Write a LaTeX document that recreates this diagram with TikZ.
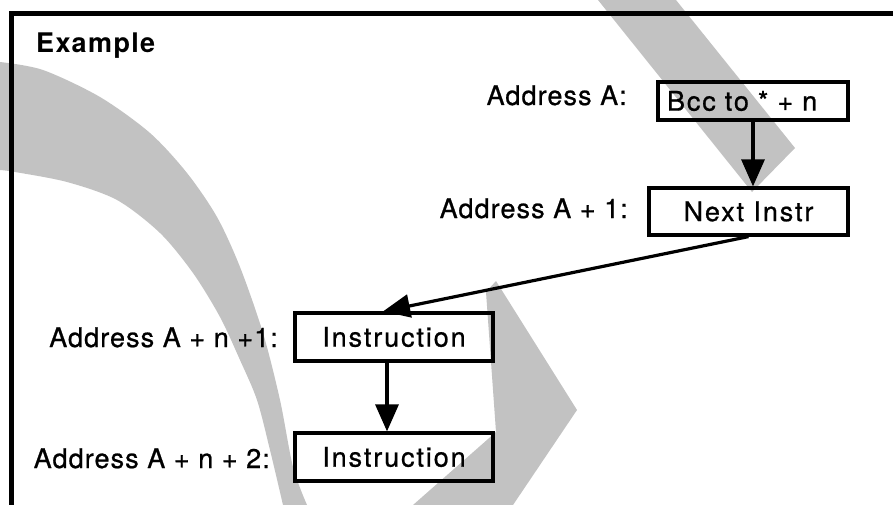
\documentclass[tikz,border=0pt]{standalone}
\usepackage{fontspec}
\setmainfont{TeX Gyre Heros}
\newfontfamily\labfont[LetterSpace=4,FakeBold=0.8]{TeX Gyre Heros}
\newfontfamily\boxfont[LetterSpace=7,FakeBold=0.8]{TeX Gyre Heros}
\newfontfamily\titlefont[LetterSpace=5]{TeX Gyre Heros}
\usetikzlibrary{arrows.meta}
\begin{document}
\begin{tikzpicture}[x=1pt,y=-1pt,
  halftone/.style={fill=black!24},
  membox/.style={draw, line width=3.2pt, minimum height=47pt, inner sep=0pt,
    font=\boxfont\fontsize{27}{32}\selectfont},
  addr/.style={anchor=base east, inner sep=0pt, font=\labfont\fontsize{27}{32}\selectfont},
  flow/.style={line width=3.2pt, -{Triangle[length=27pt,width=23pt]}},
  frameline/.style={line width=5pt},
]
\useasboundingbox (0,0) rectangle (893,505);

% halftone background shapes
\fill[halftone] plot[smooth] coordinates {(0,62) (43,70) (100,97) (150,133) (187,173) (217,217) (240,267) (263,333) (280,400) (293,467) (307,505)}
  -- plot[smooth] coordinates {(283,505) (270,450) (257,400) (240,360) (220,317) (193,273) (160,233) (117,200) (67,182) (15,172) (0,170)} -- cycle;
\fill[halftone] (598,0) -- (676,0) -- (795,148) -- (752,192) -- cycle;
\fill[halftone] (486,292) -- (496,281) -- (577,410) -- (513,505) -- (413,505) -- (496,432) -- cycle;

% frame
\draw[frameline] (893,14) -- (11,14) -- (11,505);

\node[anchor=base west, inner sep=0pt, font=\titlefont\bfseries\fontsize{27}{32}\selectfont] (title) at (36,53) {Example};

% memory boxes
\node[membox, minimum width=190pt, minimum height=38pt, text width=172pt, align=left, inner xsep=9pt] (bcc) at (753,101) {Bcc to * + n};
\node[membox, minimum width=199pt] (next) at (748.5,211.5) {Next Instr};
\node[membox, minimum width=198pt, minimum height=48pt] (ins1) at (394,337) {Instruction};
\node[membox, minimum width=198pt, minimum height=48pt] (ins2) at (394,457) {Instruction};

% address labels
\node[addr] (la) at (627,105) {Address A:};
\node[addr] (la1) at (628,218) {Address A + 1:};
\node[addr] (lan1) at (278,347) {Address A + n +1:};
\node[addr] (lan2) at (270,468) {Address A + n + 2:};

% connectors
\draw[flow] (bcc.south) -- (bcc.south |- next.north);
\draw[flow] (next.south) -- ([xshift=-11pt]ins1.north);
\draw[flow] ([xshift=-7pt]ins1.south) -- ([xshift=-7pt]ins2.north);
\end{tikzpicture}
\end{document}
